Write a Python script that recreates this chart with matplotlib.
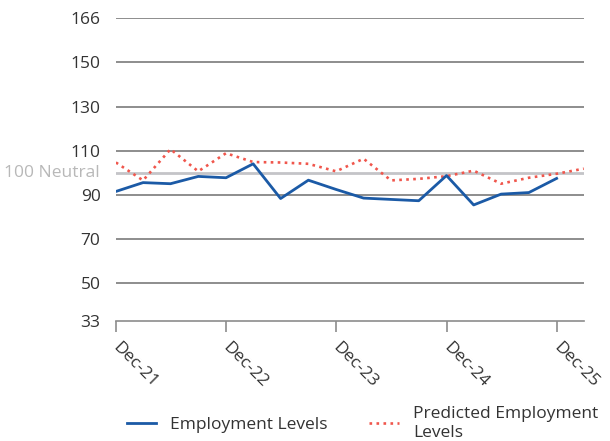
import numpy as np
import pandas as pd
import matplotlib
matplotlib.use('Agg')
import matplotlib.pyplot as plt
from matplotlib.transforms import ScaledTranslation

# quarterly index values
quarters = pd.date_range('2021-12-31', periods=18, freq='QE-DEC')

employment = [91.6, 95.6, 95.1, 98.4, 97.8, 104.1, 88.4, 96.7, 92.5,
              88.6, 88.0, 87.4, 98.8, 85.5, 90.4, 91.1, 97.5]
predicted = [104.7, 96.6, 110.7, 100.7, 108.9, 104.9, 104.7, 104.1, 100.7,
             106.4, 96.6, 97.3, 98.5, 101.0, 95.1, 97.8, 99.6, 101.9]

neutral = 100
ytick_pos = [33, 50, 70, 90, 110, 130, 150, 170]
ytick_labels = ['33', '50', '70', '90', '110', '130', '150', '166']
xtick_labels = ['Dec-21', 'Dec-22', 'Dec-23', 'Dec-24', 'Dec-25']

plt.rcParams['font.family'] = ['Open Sans', 'DejaVu Sans']
fs = 12.5

fig = plt.figure(figsize=(6.1, 4.41), dpi=100)
ax = fig.add_axes([0.190, 0.272, 0.767, 0.687])

for y in ytick_pos[1:]:
    ax.axhline(y, color='#858585', lw=1.3, zorder=1)
ax.axhline(neutral, color='#c4c4c8', lw=2.0, zorder=1)

ax.plot(quarters[:len(employment)], employment, '-', color='#1b5aa6', lw=2.0,
        label='Employment Levels', zorder=3)
ax.plot(quarters, predicted, ':', color='#f0564c', lw=1.9,
        label='Predicted Employment\nLevels', zorder=2)

ax.set_xlim(quarters[0], quarters[-1])
ax.set_ylim(33, 170)

ax.set_yticks(ytick_pos)
ax.set_yticklabels(ytick_labels, fontsize=fs, color='#333333')
ax.tick_params(axis='y', length=0, pad=11)
ax.text(-0.034, neutral, '100 Neutral', transform=ax.get_yaxis_transform(),
        ha='right', va='center', fontsize=fs, color='#b8b8b8')

ax.set_xticks(quarters[::4])
ax.set_xticklabels(xtick_labels, rotation=-45, ha='left', va='top',
                   rotation_mode='anchor', fontsize=fs, color='#333333')
ax.tick_params(axis='x', length=8, color='#8c8c8c', width=1.2, pad=5)
shift = ScaledTranslation(5 / 100, 0, fig.dpi_scale_trans)
for lbl in ax.get_xticklabels():
    lbl.set_transform(lbl.get_transform() + shift)

for side in ['top', 'right', 'left']:
    ax.spines[side].set_visible(False)
ax.spines['bottom'].set_color('#8c8c8c')
ax.spines['bottom'].set_linewidth(1.2)

leg = ax.legend(loc='upper left', bbox_to_anchor=(0.0235, -0.279), ncol=2,
                frameon=False, fontsize=fs, handlelength=1.7, columnspacing=2.4,
                borderaxespad=0, borderpad=0, labelspacing=0.2,
                labelcolor='#333333')
for t in leg.get_texts():
    t.set_linespacing(1.25)

fig.savefig('out.png', dpi=100)
